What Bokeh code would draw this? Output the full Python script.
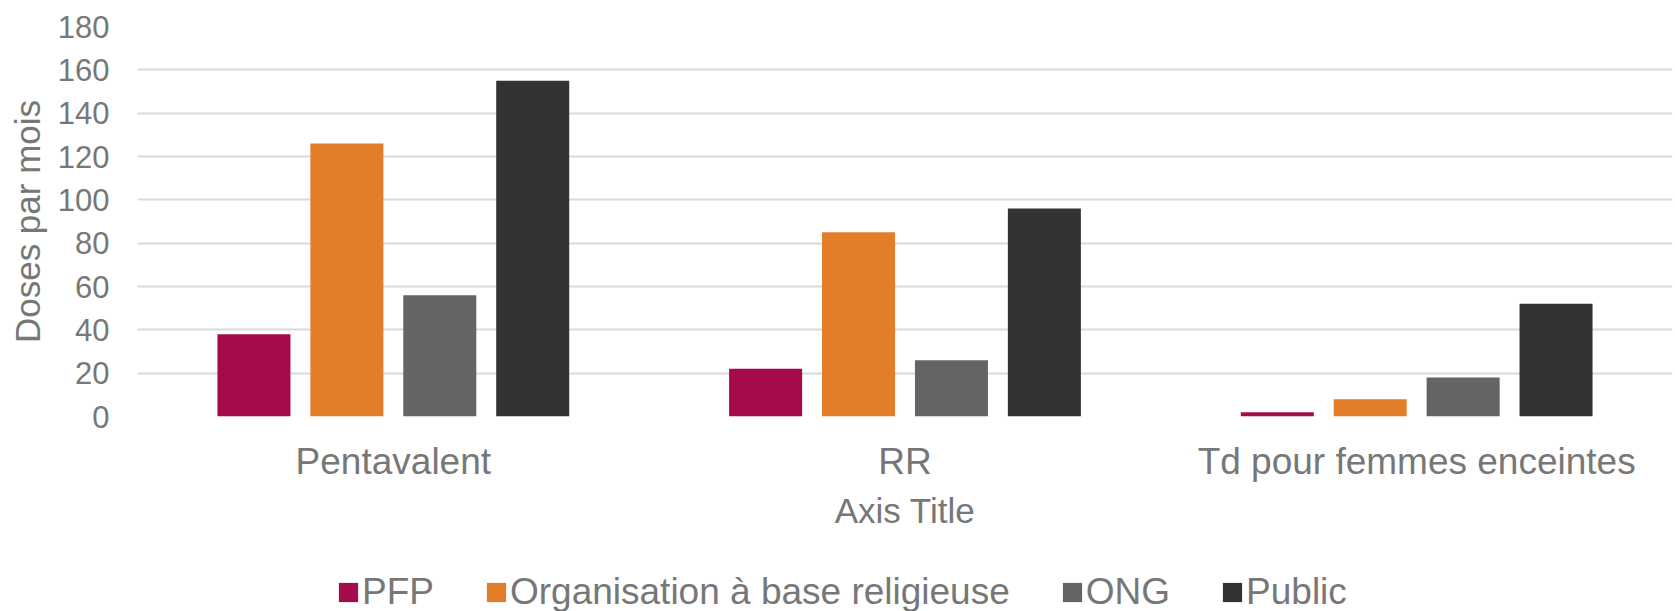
from bokeh.plotting import figure
from bokeh.layouts import column
from bokeh.models import ColumnDataSource, FactorRange, Range1d, FixedTicker, Legend, LegendItem
from bokeh.transform import dodge
from bokeh.embed import file_html
from bokeh.resources import INLINE

# Vaccine categories and monthly doses per provider type
categories = ["Pentavalent", "RR", "Td pour femmes enceintes"]
series_names = ["PFP", "Organisation à base religieuse", "ONG", "Public"]
pfp = [38, 22, 2]
religieuse = [126, 85, 8]
ong = [56, 26, 18]
public = [155, 96, 52]
y_ticks = [0, 20, 40, 60, 80, 100, 120, 140, 160, 180]

colors = ["#A50B4A", "#E47D27", "#636466", "#333333"]
offsets = [-0.2724, -0.0908, 0.0908, 0.2724]
text_color = "#777777"
font = "Liberation Sans"

W = 1675
H_CHART = 555
H_LEGEND = 56

source = ColumnDataSource(data=dict(cat=categories, s0=pfp, s1=religieuse, s2=ong, s3=public))

p = figure(
    width=W, height=H_CHART,
    x_range=FactorRange(*categories, range_padding=0),
    y_range=Range1d(0, 180),
    output_backend="svg", toolbar_location=None,
    min_border_left=137, min_border_right=3, min_border_top=26, min_border_bottom=139,
)
p.outline_line_color = None
p.background_fill_color = "white"
p.border_fill_color = "white"

for i, name in enumerate(series_names):
    p.vbar(x=dodge("cat", offsets[i], range=p.x_range), top="s%d" % i, width=0.1427,
           source=source, fill_color=colors[i], line_color=None)

# Grid
p.xgrid.grid_line_color = None
p.ygrid.grid_line_color = "#d9d9d9"
p.ygrid.grid_line_width = 2

# Y axis
p.yaxis.ticker = FixedTicker(ticks=y_ticks)
p.yaxis.axis_line_color = None
p.yaxis.major_tick_line_color = None
p.yaxis.minor_tick_line_color = None
p.yaxis.major_tick_out = 0
p.yaxis.major_tick_in = 0
p.yaxis.major_label_text_font = font
p.yaxis.major_label_text_font_size = "31px"
p.yaxis.major_label_text_color = text_color
p.yaxis.major_label_standoff = 28
p.yaxis.axis_label = "Doses par mois"
p.yaxis.axis_label_text_font = font
p.yaxis.axis_label_text_font_size = "35px"
p.yaxis.axis_label_text_font_style = "normal"
p.yaxis.axis_label_text_color = text_color
p.yaxis.axis_label_standoff = 8

# X axis
p.xaxis.axis_line_color = None
p.xaxis.major_tick_line_color = None
p.xaxis.minor_tick_line_color = None
p.xaxis.major_tick_out = 0
p.xaxis.major_tick_in = 0
p.xaxis.major_label_text_font = font
p.xaxis.major_label_text_font_size = "37px"
p.xaxis.major_label_text_color = text_color
p.xaxis.major_label_standoff = 24
p.xaxis.axis_label = "Axis Title"
p.xaxis.axis_label_text_font = font
p.xaxis.axis_label_text_font_size = "35px"
p.xaxis.axis_label_text_font_style = "normal"
p.xaxis.axis_label_text_color = text_color
p.xaxis.axis_label_standoff = 6

# Legend strip underneath the chart (its frame lines up with the chart's frame)
pl = figure(
    width=W, height=H_LEGEND, x_range=(0, 1), y_range=(0, 1),
    x_axis_type=None, y_axis_type=None,
    output_backend="svg", toolbar_location=None,
    min_border_left=0, min_border_right=0, min_border_top=0, min_border_bottom=0,
)
pl.outline_line_color = None
pl.grid.visible = False
pl.background_fill_color = "white"
pl.border_fill_color = "white"

# zero-height swatch bars: nothing is drawn, they only feed the legend
swatches = [pl.vbar(x=[0.5], top=[0], bottom=[0], width=0.1, fill_color=c, line_color=None)
            for c in colors]

legend = Legend(
    items=[LegendItem(label=n, renderers=[r]) for n, r in zip(series_names, swatches)],
    orientation="horizontal",
    location=(199, -2),
    label_text_font=font,
    label_text_font_size="37px",
    label_text_color=text_color,
    glyph_width=24, glyph_height=24,
    label_standoff=2, spacing=50,
    padding=0, margin=0,
    border_line_color=None, background_fill_alpha=0,
)
pl.add_layout(legend, "center")

layout = column(p, pl, spacing=0)
open("out.html", "w").write(file_html(layout, INLINE))
